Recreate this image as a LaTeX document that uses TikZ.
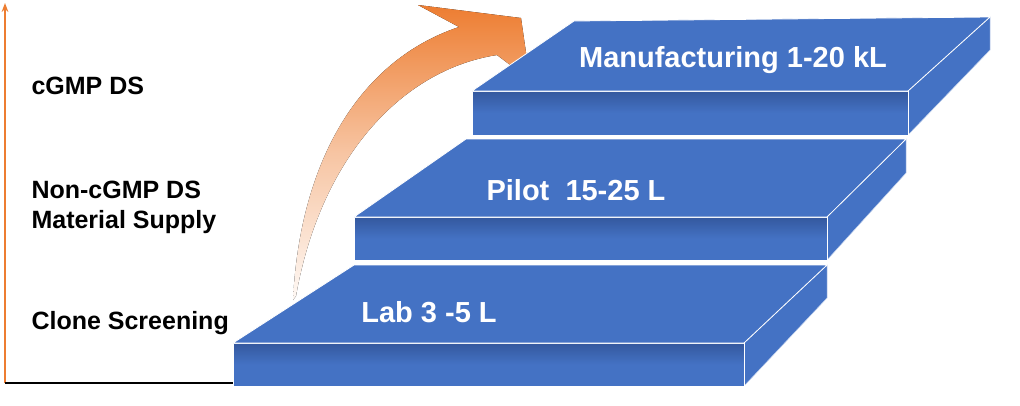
\documentclass[tikz,border=0pt]{standalone}
\usepackage{fontspec}
\setmainfont{Liberation Sans}
\usetikzlibrary{positioning, arrows.meta}
\definecolor{slabblue}{RGB}{68,114,196}
\definecolor{slabdark}{RGB}{52,88,158}
\definecolor{arroworange}{RGB}{237,125,49}
\tikzset{
  top face/.style={fill=slabblue, draw=white, line width=0.8pt},
  front face/.style={top color=slabdark, bottom color=slabblue, middle color=slabblue, draw=white, line width=0.8pt},
  side face/.style={fill=slabblue, draw=white!70!slabblue, line width=0.5pt},
  stage/.style={text=white, font=\bfseries\fontsize{29}{34}\selectfont},
  level/.style={anchor=west, align=left, font=\bfseries\fontsize{25}{30}\selectfont},
}
\begin{document}
\begin{tikzpicture}[x=1pt, y=-1pt]
  \useasboundingbox (0,0) rectangle (1020,405);

  % axes
  \coordinate (origin) at (5,383);
  \coordinate (ytop) at (5,3);
  \coordinate (xend) at (233,383);
  \draw[arroworange, line width=1.5pt, -{Stealth[length=9pt]}] (origin) -- (ytop);
  \draw[black, line width=1.5pt] (origin) -- (xend);

  % curved arrow (drawn below the slabs)
  \fill[top color=arroworange, bottom color=arroworange!5, middle color=arroworange!45]
    (293,300) .. controls (300,160) and (360,60) .. (459,27)
    -- (418,5) -- (521,18) -- (530,80) -- (497,55)
    .. controls (400,70) and (320,160) .. (296,296) -- cycle;

  % Lab slab
  \filldraw[side face] (744,343) -- (827,265) -- (827,298) -- (744,386) -- cycle;
  \filldraw[front face] (233,343) rectangle (744,386);
  \filldraw[top face] (233,343) -- (354,265) -- (827,265) -- (744,343) -- cycle;

  % Pilot slab
  \filldraw[side face] (827,217) -- (906,139) -- (906,173) -- (827,260) -- cycle;
  \filldraw[front face] (354,217) rectangle (827,260);
  \filldraw[top face] (354,217) -- (466,139) -- (906,139) -- (827,217) -- cycle;

  % Manufacturing slab
  \filldraw[side face] (908,91) -- (990,17) -- (990,50) -- (908,135) -- cycle;
  \filldraw[front face] (472,91) rectangle (908,135);
  \filldraw[top face] (472,91) -- (574,21) -- (990,17) -- (908,91) -- cycle;

  % stage labels
  \node[stage] (lab) at (429,312) {Lab 3 -5 L};
  \node[stage] (pilot) at (576,190) {Pilot\ \ 15-25 L};
  \node[stage] (mfg) at (733,60) {Manufacturing 1-20 kL};

  % level labels
  \node[level] (cgmp) at (28,86) {cGMP DS};
  \node[level] (noncgmp) at (28,207) {Non-cGMP DS\\Material Supply};
  \node[level] (clone) at (28,323) {Clone Screening};
\end{tikzpicture}
\end{document}
